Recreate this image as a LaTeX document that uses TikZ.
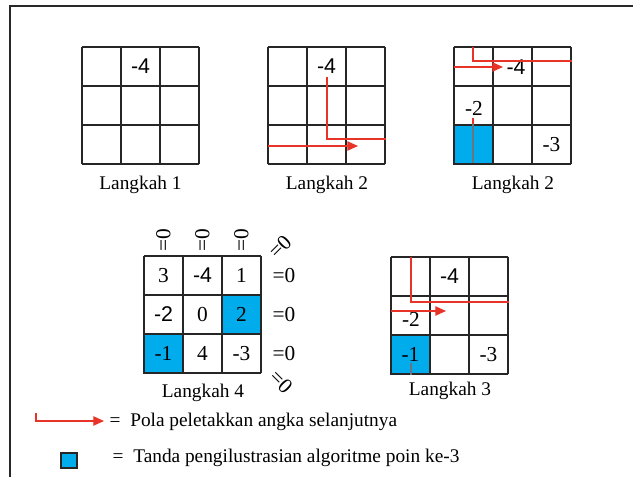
\documentclass[tikz,border=0pt]{standalone}
\usepackage{fontspec}
\setmainfont{Liberation Serif}
\newfontfamily\angkasans{Liberation Sans}
\usetikzlibrary{arrows.meta}

\definecolor{biru}{RGB}{0,172,236}
\definecolor{merah}{RGB}{232,52,40}
\definecolor{abu}{RGB}{105,118,128}
\definecolor{bingkai}{RGB}{40,40,40}

% 3x3 grid: name, left x, top y (cell = 39 px)
\newcommand{\kotak}[3]{%
  \foreach \i in {0,...,3} {
    \draw[garis] (#2+39*\i, #3) -- (#2+39*\i, #3+117);
    \draw[garis] (#2, #3+39*\i) -- (#2+117, #3+39*\i);
  }
  \foreach \r in {1,2,3} \foreach \c in {1,2,3}
    \coordinate (#1-\r\c) at (#2+39*\c-19.5, #3+39*\r-19.5);
}

\begin{document}
\begin{tikzpicture}[x=0.75pt, y=-0.75pt, >=Stealth,
    garis/.style={line width=1.4pt, black!85},
    angka/.style={font=\fontsize{16}{16}\selectfont, inner sep=0pt},
    judul/.style={font=\fontsize{14.5}{15}\selectfont, anchor=base},
    sel/.style={fill=biru, draw=black!85, line width=1.4pt, minimum width=29.25pt,
      minimum height=29.25pt, inner sep=0pt, font=\fontsize{16}{16}\selectfont},
    jalur/.style={merah, line width=0.9pt},
    panah/.style={jalur, -{Triangle[length=8pt, width=7pt]}}]

    \useasboundingbox (0,0) rectangle (633,477);

    % --- 1. bingkai ---
    \draw[bingkai, line width=1.6pt] (633,6) -- (10,6) -- (10,477);

    % --- 2. Langkah 1 ---
    \kotak{ga}{82}{47}
    \node[angka] (ga-n12) at (ga-12) {\angkasans -4};
    \node[judul] (ga-judul) at (140.5,190) {Langkah 1};

    % --- 3. Langkah 2 ---
    \kotak{gb}{268}{47}
    \node[angka] (gb-n12) at (gb-12) {\angkasans -4};
    \draw[jalur] (327,77) |- (386,139);
    \draw[panah] (268,146) -- (358,146);
    \node[judul] (gb-judul) at (327,190) {Langkah 2};

    % --- 4. Langkah 2 (lanjutan) ---
    \kotak{gc}{454}{47}
    \node[sel] (gc-n31) at (gc-31) {};
    \node[angka] (gc-n12) at (516,67) {\angkasans -4};
    \node[angka] (gc-n21) at (474,108) {-2};
    \node[angka] (gc-n33) at (gc-33) {-3};
    \draw[jalur] (473,47) |- (572,61);
    \draw[panah] (454,67) -- (503,67);
    \draw[jalur] (473,118) -- (473,124);
    \draw[abu, line width=0.9pt] (473,124) -- (473,163);
    \node[judul] (gc-judul) at (513,190) {Langkah 2};

    % --- 5. Langkah 4: semua baris, kolom dan diagonal = 0 ---
    \kotak{gd}{144}{256}
    \node[sel] (gd-n23) at (gd-23) {2};
    \node[sel] (gd-n31) at (gd-31) {-1};
    \node[angka] (gd-n11) at (gd-11) {3};
    \node[angka] (gd-n12) at (gd-12) {\angkasans -4};
    \node[angka] (gd-n13) at (gd-13) {1};
    \node[angka] (gd-n21) at (gd-21) {\angkasans -2};
    \node[angka] (gd-n22) at (gd-22) {0};
    \node[angka] (gd-n32) at (gd-32) {4};
    \node[angka] (gd-n33) at (gd-33) {-3};
    \foreach \c/\x in {1/163.5, 2/202.5, 3/241.5}
      \node[angka, rotate=90] (gd-k\c) at (\x,240) {=0};
    \foreach \r/\y in {1/275.5, 2/314.5, 3/353.5}
      \node[angka] (gd-b\r) at (284,\y) {=0};
    \node[angka, rotate=45] (gd-d1) at (280,247) {=0};
    \node[angka, rotate=-45] (gd-d2) at (281,382) {=0};
    \node[judul] (gd-judul) at (203,398) {Langkah 4};

    % --- 6. Langkah 3 ---
    \kotak{ge}{391}{257}
    \node[sel] (ge-n31) at (ge-31) {-1};
    \node[angka] (ge-n12) at (ge-12) {\angkasans -4};
    \node[angka] (ge-n21) at (411,319) {-2};
    \node[angka] (ge-n33) at (ge-33) {-3};
    \draw[jalur] (411,257) |- (509,302);
    \draw[panah] (391,311) -- (446,311);
    \draw[abu, line width=0.9pt] (411,363) -- (411,375);
    \node[judul] (ge-judul) at (450,396) {Langkah 3};

    % --- 7. keterangan ---
    \draw[panah] (36,413) |- (104,421);
    \node[judul, anchor=base west] (ket-a) at (105,427) {=\ \ Pola peletakkan angka selanjutnya};
    \node[draw=black!85, fill=biru, line width=0.8pt, minimum width=12pt, minimum height=11.25pt,
      inner sep=0pt] (ket-kotak) at (69,460.5) {};
    \node[judul, anchor=base west] (ket-b) at (108,463) {=\ \ Tanda pengilustrasian algoritme poin ke-3};

  \end{tikzpicture}
\end{document}
